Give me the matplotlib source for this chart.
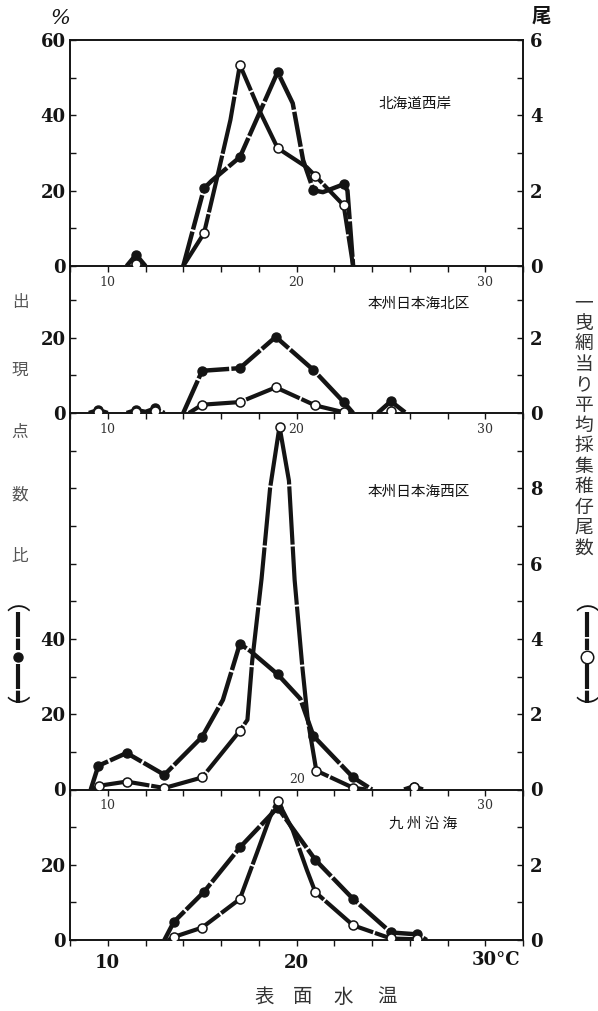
import matplotlib
matplotlib.use('Agg')
import matplotlib.pyplot as plt
import numpy as np
from matplotlib.lines import Line2D

nan = np.nan
CJK = ['Noto Sans CJK JP', 'DejaVu Sans']

# ---- data ----
# 出現点数比 (%) : filled circles, left axis
# 平均採集稚仔尾数 (尾) : open circles, right axis
titles = ['北海道西岸', '本州日本海北区', '本州日本海西区', '九 州 沿 海']

# 北海道西岸
p1_fill_mx = [11.5, 15.1, 17.0, 19.0, 20.9, 22.5]
p1_fill_my = [3, 20.6, 28.9, 51.5, 20.1, 21.7]
p1_fill_lx = [11.0, 11.5, 12.0, nan, 14.0, 15.1, 15.5, 17.0, 19.0, 19.8, 20.35, 20.9, 21.4, 22.5, 22.7, 23.0]
p1_fill_ly = [0, 3, 0, nan, 0, 20.6, 22.6, 28.9, 51.5, 43.2, 28.1, 20.1, 19.6, 21.7, 20.0, 0]
p1_open_mx = [11.5, 15.1, 17.0, 19.0, 21.0, 22.5]
p1_open_my = [0.05, 0.87, 5.34, 3.13, 2.39, 1.61]
p1_open_lx = [14.0, 15.1, 15.8, 16.5, 17.0, 18.1, 19.0, 20.55, 21.0, 22.5, 23.0]
p1_open_ly = [0, 0.87, 2.36, 3.88, 5.34, 4.06, 3.13, 2.62, 2.39, 1.61, 0]

# 本州日本海北区
p2_fill_mx = [9.5, 11.5, 12.5, 15.0, 17.0, 18.9, 20.9, 22.5, 25.0]
p2_fill_my = [0.8, 0.8, 1.2, 11.2, 11.9, 20.2, 11.4, 2.9, 3.1]
p2_fill_lx = [9.0, 9.5, 10.0, nan, 11.0, 11.5, 12.0, 12.5, 13.0, nan, 14.0, 15.0, 17.0, 18.9, 20.9, 22.5, 23.0, nan, 24.3, 25.0, 25.8]
p2_fill_ly = [0, 0.8, 0, nan, 0, 0.8, 0.3, 1.2, 0, nan, 0, 11.2, 11.9, 20.2, 11.4, 2.9, 0, nan, 0, 3.1, 0]
p2_open_mx = [9.5, 11.5, 12.5, 15.0, 17.0, 18.9, 21.0, 22.5, 25.0]
p2_open_my = [0.02, 0.03, 0.06, 0.22, 0.29, 0.68, 0.20, 0.02, 0.04]
p2_open_lx = [14.3, 15.0, 17.0, 18.9, 21.0, 22.5]
p2_open_ly = [0, 0.22, 0.29, 0.68, 0.20, 0.02]

# 本州日本海西区
p3_fill_mx = [9.5, 11.0, 13.0, 15.0, 17.0, 19.0, 20.9, 23.0, 26.2]
p3_fill_my = [6.3, 9.7, 3.9, 14.0, 38.7, 30.6, 14.2, 3.2, 0.6]
p3_fill_lx = [9.1, 9.5, 11.0, 13.0, 15.0, 16.1, 17.0, 17.55, 19.0, 20.2, 20.9, 23.0, 24.0, nan, 25.7, 26.2, 26.7]
p3_fill_ly = [0, 6.3, 9.7, 3.9, 14.0, 23.8, 38.7, 36.8, 30.6, 24.1, 14.2, 3.2, 0, nan, 0, 0.8, 0]
p3_open_mx = [9.55, 11.0, 13.0, 15.0, 17.0, 19.1, 21.05, 23.0, 26.2]
p3_open_my = [0.10, 0.21, 0.04, 0.32, 1.56, 9.64, 0.50, 0.045, 0.07]
p3_open_lx = [9.2, 9.55, 11.0, 13.0, 15.0, 17.0, 17.4, 17.65, 18.15, 18.6, 19.1, 19.6, 19.9, 20.3, 20.6, 21.05, 23.0, 23.7]
p3_open_ly = [0, 0.10, 0.21, 0.04, 0.32, 1.56, 1.85, 3.4, 5.6, 8.0, 9.64, 8.2, 5.57, 3.3, 1.84, 0.50, 0.045, 0]

# 九州沿海
p4_fill_mx = [13.5, 15.1, 17.0, 19.0, 21.0, 23.0, 25.0, 26.4]
p4_fill_my = [4.8, 12.8, 24.6, 35.2, 21.3, 10.9, 2.0, 1.5]
p4_fill_lx = [13.0, 13.5, 15.1, 17.0, 19.0, 21.0, 23.0, 25.0, 26.4, 26.9]
p4_fill_ly = [0, 4.8, 12.8, 24.6, 35.2, 21.3, 10.9, 2.0, 1.5, 0]
p4_open_mx = [13.5, 15.0, 17.0, 19.0, 21.0, 23.0, 25.0, 26.4]
p4_open_my = [0.08, 0.33, 1.09, 3.70, 1.27, 0.39, 0.04, 0.02]
p4_open_lx = [13.2, 13.5, 15.0, 17.0, 17.9, 18.6, 19.0, 19.8, 20.55, 21.0, 23.0, 25.0, 26.4]
p4_open_ly = [0, 0.08, 0.33, 1.09, 2.31, 3.27, 3.70, 2.92, 1.86, 1.27, 0.39, 0.04, 0.02]

panels = [
    (p1_fill_mx, p1_fill_my, p1_fill_lx, p1_fill_ly, p1_open_mx, p1_open_my, p1_open_lx, p1_open_ly),
    (p2_fill_mx, p2_fill_my, p2_fill_lx, p2_fill_ly, p2_open_mx, p2_open_my, p2_open_lx, p2_open_ly),
    (p3_fill_mx, p3_fill_my, p3_fill_lx, p3_fill_ly, p3_open_mx, p3_open_my, p3_open_lx, p3_open_ly),
    (p4_fill_mx, p4_fill_my, p4_fill_lx, p4_fill_ly, p4_open_mx, p4_open_my, p4_open_lx, p4_open_ly),
]

ymax = [60, 39, 100, 40]
left_ticks = [range(0, 61, 10), range(0, 40, 10), range(0, 91, 10), range(0, 40, 10)]
left_labels = [[0, 20, 40, 60], [0, 20], [0, 20, 40], [0, 20]]
right_ticks = [range(0, 7), range(0, 4), range(0, 10), range(0, 4)]
right_labels = [[0, 2, 4, 6], [0, 2], [0, 2, 4, 6, 8], [0, 2]]
title_pos = [(26.3, 43), (26.5, 29), (26.5, 79), (26.7, 31)]

# ---- layout (pixels) ----
W, H = 598, 1011
L, R = 70, 523
edges = [40, 266, 413, 789.5, 940]
ink = '#141414'

fig = plt.figure(figsize=(W / 100, H / 100), dpi=100)


def ftext(x, y, s, **kw):
    return fig.text(x / W, 1 - y / H, s, **kw)


numfont = dict(family='DejaVu Serif', weight='bold', size=13)
smallfont = dict(family='DejaVu Serif', size=9)

for i in range(4):
    top, bot = edges[i], edges[i + 1]
    ax = fig.add_axes([L / W, 1 - bot / H, (R - L) / W, (bot - top) / H])
    ax2 = ax.twinx()
    ax.set_xlim(8, 32)
    ax.set_ylim(0, ymax[i])
    ax2.set_ylim(0, ymax[i] / 10)
    for a in (ax, ax2):
        for s in a.spines.values():
            s.set_linewidth(1.2)
            s.set_color(ink)
        a.patch.set_visible(False)
    if i > 0:
        ax.spines['top'].set_visible(False)
        ax2.spines['top'].set_visible(False)

    fmx, fmy, flx, fly, omx, omy, olx, oly = panels[i]
    ax.plot(flx, fly, color=ink, lw=3.2, ls=(0, (8, 0.5)), solid_capstyle='butt',
            dash_capstyle='butt', zorder=3)
    ax.plot(fmx, fmy, 'o', color=ink, ms=6.5, zorder=4)
    ax2.plot(olx, oly, color=ink, lw=3.0, ls=(0, (14, 0.45)), dash_capstyle='butt', zorder=3)
    ax2.plot(omx, omy, 'o', mfc='white', mec=ink, mew=1.1, ms=6.5, zorder=4)

    # x ticks
    xt = np.arange(8, 33, 2)
    ax.set_xticks(xt)
    ax.tick_params(axis='x', direction='out', length=4, width=1, color=ink)
    if i < 3:
        labs = [str(v) if v in (10, 20, 30) else '' for v in xt]
        if i == 2:
            labs = [str(v) if v in (10, 30) else '' for v in xt]
            ax.text(20.05, 1.0, '20', ha='center', va='bottom', color='#333', **smallfont)
        ax.set_xticklabels(labs, color='#333', **smallfont)
        ax.tick_params(axis='x', pad=3)
    else:
        labs = [str(v) if v in (10, 20) else '' for v in xt]
        ax.set_xticklabels(labs, color=ink, **numfont)
        ax.tick_params(axis='x', pad=6)
        ax.annotate('30°C', xy=(30, 0), xycoords=('data', 'axes fraction'),
                    xytext=(-10, -8), textcoords='offset points', ha='left', va='top',
                    color=ink, **numfont)

    # y ticks
    ax.set_yticks(list(left_ticks[i]))
    ax.set_yticklabels([str(v) if v in left_labels[i] else '' for v in left_ticks[i]],
                       color=ink, **numfont)
    ax.tick_params(axis='y', direction='in', length=4, width=1, pad=3, color=ink)
    ax2.set_yticks(list(right_ticks[i]))
    ax2.set_yticklabels([str(v) if v in right_labels[i] else '' for v in right_ticks[i]],
                        color=ink, **numfont)
    ax2.tick_params(axis='y', direction='in', length=4, width=1, pad=5, color=ink)

    tx, ty = title_pos[i]
    ax.text(tx, ty, titles[i], ha='center', va='center', family=CJK, size=10.5, color=ink)

# corner units
ftext(60, 18, '%', ha='center', va='center', family='DejaVu Serif', style='italic', size=15, color=ink)
ftext(541, 16, '尾', ha='center', va='center', family=CJK, size=14, weight='bold', color=ink)

# left axis title
for ch, y in zip('出現点数比', [303, 370, 432, 495, 557]):
    ftext(20, y, ch, ha='center', va='center', family=CJK, size=12, color='#555555')
# right axis title
for k, ch in enumerate('一曳網当り平均採集稚仔尾数'):
    ftext(584, 303 + k * 20.4, ch, ha='center', va='center', family=CJK, size=13.5, color='#333333')


def legend_key(x, filled):
    ftext(x, 604, '︵', ha='center', va='center', family=CJK, size=17, color=ink)
    ftext(x, 710, '︶', ha='center', va='center', family=CJK, size=17, color=ink)
    for y1, y2 in [(612, 650), (664, 703)]:
        fig.add_artist(Line2D([x / W, x / W], [1 - y1 / H, 1 - y2 / H], transform=fig.transFigure,
                              color=ink, lw=3, ls=(0, (6, 0.4))))
    if filled:
        fig.add_artist(Line2D([x / W], [1 - 657 / H], transform=fig.transFigure, marker='o',
                              color=ink, ms=6.5))
    else:
        fig.add_artist(Line2D([x / W], [1 - 657 / H], transform=fig.transFigure, marker='o',
                              mfc='white', mec=ink, mew=1.1, ms=9))


legend_key(18, True)
legend_key(587, False)

# x axis title
for ch, x in zip('表面水温', [264, 303, 343, 387]):
    ftext(x, 997, ch, ha='center', va='center', family=CJK, size=14, color='#333333')

fig.savefig('out.png', dpi=100)
